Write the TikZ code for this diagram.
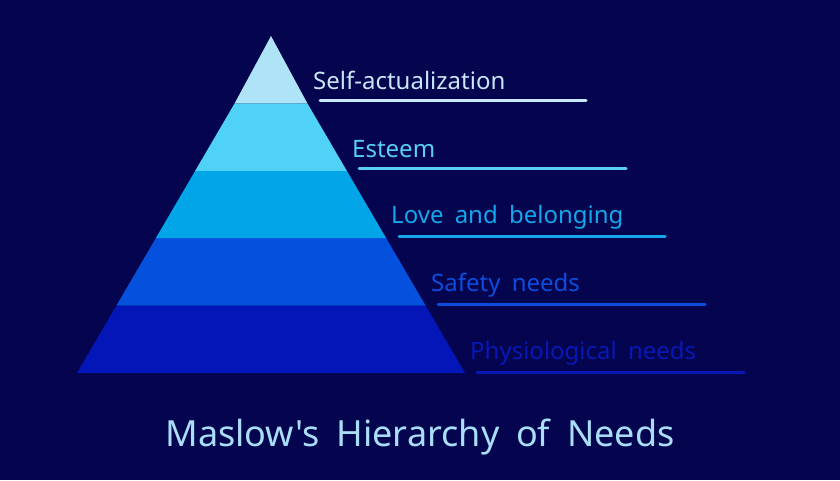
\documentclass[tikz,border=0pt]{standalone}
\usepackage{fontspec}
\setmainfont[WordSpace=1.8]{Noto Sans}
\newfontfamily\titlefont[WordSpace=1.8]{Noto Sans}
\definecolor{bg}{HTML}{04044F}
\definecolor{cA}{HTML}{AEE3F8}
\definecolor{cB}{HTML}{50D2F8}
\definecolor{cC}{HTML}{02A6E8}
\definecolor{cD}{HTML}{0550DD}
\definecolor{cE}{HTML}{0416B8}
\definecolor{tA}{HTML}{C8E7FA}
\definecolor{tB}{HTML}{59CFF5}
\definecolor{tC}{HTML}{16A6EA}
\definecolor{tD}{HTML}{0E4CDC}
\definecolor{tE}{HTML}{0818B5}
\definecolor{title}{HTML}{A9DDF8}
\tikzset{
  lbl/.style={anchor=west, inner sep=0pt, font=\fontsize{24}{28}\selectfont},
  uline/.style={line width=3pt, line cap=round},
}
\begin{document}
\begin{tikzpicture}[x=1pt,y=-1pt]
\fill[bg] (0,0) rectangle (840,480);
\useasboundingbox (0,0) rectangle (840,480);
% pyramid bands
\fill[cE] (77,373) -- (465,373) -- (425.6,305.6) -- (116.4,305.6) -- cycle;
\fill[cD] (116.4,305.6) -- (425.6,305.6) -- (386.2,238.2) -- (155.8,238.2) -- cycle;
\fill[cC] (155.8,238.2) -- (386.2,238.2) -- (346.8,170.8) -- (195.2,170.8) -- cycle;
\fill[cB] (195.2,170.8) -- (346.8,170.8) -- (307.4,103.4) -- (234.6,103.4) -- cycle;
\fill[cA] (234.6,103.4) -- (307.4,103.4) -- (271,36) -- cycle;
% labels
\node[lbl, text=tA] (l1) at (313,80) {Self-actualization};
\node[lbl, text=tB] (l2) at (352,149) {Esteem};
\node[lbl, text=tC] (l3) at (391,217) {Love and belonging};
\node[lbl, text=tD] (l4) at (431,285) {Safety needs};
\node[lbl, text=tE] (l5) at (470,353) {Physiological needs};
% underlines
\draw[uline, tA] (320,100) -- (586,100);
\draw[uline, tB] (359,168) -- (626,168);
\draw[uline, tC] (399,236) -- (665,236);
\draw[uline, tD] (438,304) -- (705,304);
\draw[uline, tE] (477,372) -- (744,372);
% title
\node[text=title, font=\titlefont\fontsize{36}{42}\selectfont] (title) at (420,437) {Maslow's Hierarchy of Needs};
\end{tikzpicture}
\end{document}
